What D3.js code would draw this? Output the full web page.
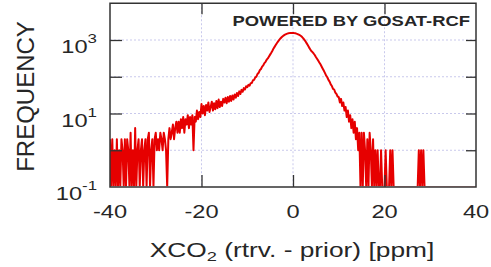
<!DOCTYPE html>
<html>
<head>
<meta charset="utf-8">
<script src="https://cdn.jsdelivr.net/npm/d3@7"></script>
<style>
  html, body { margin: 0; padding: 0; background: #fff; }
  svg { display: block; }
  text { font-family: "Liberation Sans", Arial, sans-serif; fill: #262626; }
</style>
</head>
<body>
<svg id="chart" width="491" height="267"></svg>
<script>
// histograma XCO2 (rtrv - prior), bins de 0.25 ppm desde -40
const binStart = -40;
const binStep = 0.25;
const counts = [
  2,0,2,0,1,0,2,0,1,0,2,1,0,2,0,2,1,0,3,0,            // -40 .. -35.25
  1,0,4,0,1,2,0,1,2,0,1,2,0,2,3,0,1,2,0,2,            // -35 .. -30.25
  3,1,2,1,3,2,1,3,2,1,0,2,4,2,3,5,2,4,6,3,            // -30 .. -25.25
  6,3,7,4,8,3,7,5,9,4,8,5,9,1,8,6,12,7,11,8,          // -25 .. -20.25
  18,10,16,9,17,12,20,11,15,21,12,19,13,22,14,24,15,21,16,25,    // -20 .. -15.25
  20,27,19,28,21,30,22,31,24,33,27,36,30,40,34,44,39,49,45,55,   // -15 .. -10.25
  52,60,57,67,68,80,82,96,101,119,128,151,163,189,205,235,255,291,315,354,  // -10 .. -5.25
  400,450,510,590,660,740,830,920,1010,1100,1190,1270,1340,1400,1450,1490,1520,1540,1555,1560, // -5 .. -0.25
  1550,1540,1520,1490,1450,1400,1350,1280,1200,1110,1010,910,810,720,630,560,500,470,430,390,  // 0 .. 4.75
  345,310,275,245,218,190,166,145,125,107,97,82,74,62,56,47,45,37,34,29,   // 5 .. 9.75
  28,20,25,16,20,12,15,8,12,6,9,4,7,3,6,2,4,1,3,0,     // 10 .. 14.75
  3,0,3,1,0,2,0,3,1,0,2,0,1,0,1,0,0,1,0,0,            // 15 .. 19.75
  0,1,0,0,0,1,0,1,0,0,0,0,0,0,0,0,0,0,0,0,            // 20 .. 24.75
  0,0,0,0,0,0,0,0,0,0,1,0,1,0,1,0,0,0,0,0,            // 25 .. 29.75
  0,0,0,0,0,0,0,0,0,0,0,0,0,0,0,0,0,0,0,0,            // 30 .. 34.75
  0,0,0,0,0,0,0,0,0,0,0,0,0,0,0,0,0,0,0,0,            // 35 .. 39.75
  0                                                    // 40
];

const xDomain = [-40, 40];
const yDomain = [0.1, 1e4];
const xTicks = [-40, -20, 0, 20, 40];
const xGrid = [-20, 0, 20];
const yTicks = [1, 10, 100, 1000];
const yLabelVals = [0.1, 10, 1000];
const yLabelExps = ["-1", "1", "3"];

const svg = d3.select('#chart');
const plot = { left: 110, right: 476, top: 3.25, bottom: 187 };
const sx = 1.35; // el texto del original está estirado en horizontal

const x = d3.scaleLinear().domain(xDomain).range([plot.left, plot.right]);
const y = d3.scaleLog().domain(yDomain).range([plot.bottom, plot.top]);

// --- rejilla punteada ---
const grid = svg.append('g').attr('stroke', '#c9c9ec').attr('stroke-width', 1)
  .attr('stroke-dasharray', '2,2');
grid.selectAll('.gy').data(yTicks).join('line')
  .attr('x1', plot.left).attr('x2', plot.right)
  .attr('y1', d => y(d)).attr('y2', d => y(d));
grid.selectAll('.gx').data(xGrid).join('line')
  .attr('y1', plot.top).attr('y2', plot.bottom)
  .attr('x1', d => x(d)).attr('x2', d => x(d));

// --- histograma ---
svg.append('clipPath').attr('id', 'clip').append('rect')
  .attr('x', plot.left).attr('y', 0)
  .attr('width', plot.right - plot.left).attr('height', plot.bottom - 0.8);

const line = d3.line()
  .x((d, i) => x(binStart + i * binStep))
  .y(d => y(Math.max(d, yDomain[0])));

svg.append('path')
  .datum(counts)
  .attr('clip-path', 'url(#clip)')
  .attr('fill', 'none')
  .attr('stroke', '#e60000')
  .attr('stroke-width', 2)
  .attr('stroke-linejoin', 'round')
  .attr('d', line);

// --- ejes (ticks hacia dentro) ---
function styleAxis(g) {
  g.select('.domain').remove();
  g.selectAll('.tick line').attr('stroke', '#333').attr('stroke-width', 1.3);
  g.selectAll('.tick text').remove();
}
svg.append('g').attr('transform', `translate(${plot.left},0)`)
  .call(d3.axisLeft(y).tickValues(yTicks).tickSize(-12).tickFormat('')).call(styleAxis);
svg.append('g').attr('transform', `translate(${plot.right},0)`)
  .call(d3.axisRight(y).tickValues(yTicks).tickSize(-10).tickFormat('')).call(styleAxis);
svg.append('g').attr('transform', `translate(0,${plot.bottom})`)
  .call(d3.axisBottom(x).tickValues(xGrid).tickSize(-12).tickFormat('')).call(styleAxis);
svg.append('g').attr('transform', `translate(0,${plot.top})`)
  .call(d3.axisTop(x).tickValues(xGrid).tickSize(-11).tickFormat('')).call(styleAxis);

// marco
svg.append('rect')
  .attr('x', plot.left).attr('y', plot.top)
  .attr('width', plot.right - plot.left).attr('height', plot.bottom - plot.top)
  .attr('fill', 'none').attr('stroke', '#333').attr('stroke-width', 1.5);

// --- etiquetas ---
svg.selectAll('.xl').data(xTicks).join('text')
  .attr('transform', d => `translate(${x(d)},218) scale(${sx},1)`)
  .attr('text-anchor', 'middle')
  .attr('font-size', 17.5)
  .text(d => d);

const yl = svg.selectAll('.yl').data(yLabelVals).join('text')
  .attr('transform', d => `translate(97,${y(d) + 13}) scale(${sx},1)`)
  .attr('text-anchor', 'end')
  .attr('font-size', 17.5);
yl.append('tspan').text('10');
yl.append('tspan').attr('font-size', 12.5).attr('dy', -10)
  .text((d, i) => yLabelExps[i]);

svg.append('text')
  .attr('transform', `translate(33.5,96.5) rotate(-90)`)
  .attr('text-anchor', 'middle')
  .attr('font-size', 24)
  .text('FREQUENCY');

const xt = svg.append('text')
  .attr('transform', `translate(292,256.5) scale(${sx},1)`)
  .attr('text-anchor', 'middle')
  .attr('font-size', 19.5);
xt.append('tspan').text('XCO');
xt.append('tspan').attr('font-size', 13.5).attr('dy', 4).text('2');
xt.append('tspan').attr('dy', -4).text(' (rtrv. - prior) [ppm]');

svg.append('text')
  .attr('transform', `translate(470,26) scale(1.27,1)`)
  .attr('text-anchor', 'end')
  .attr('font-size', 14.5)
  .attr('font-weight', 'bold')
  .text('POWERED BY GOSAT-RCF');
</script>
</body>
</html>
